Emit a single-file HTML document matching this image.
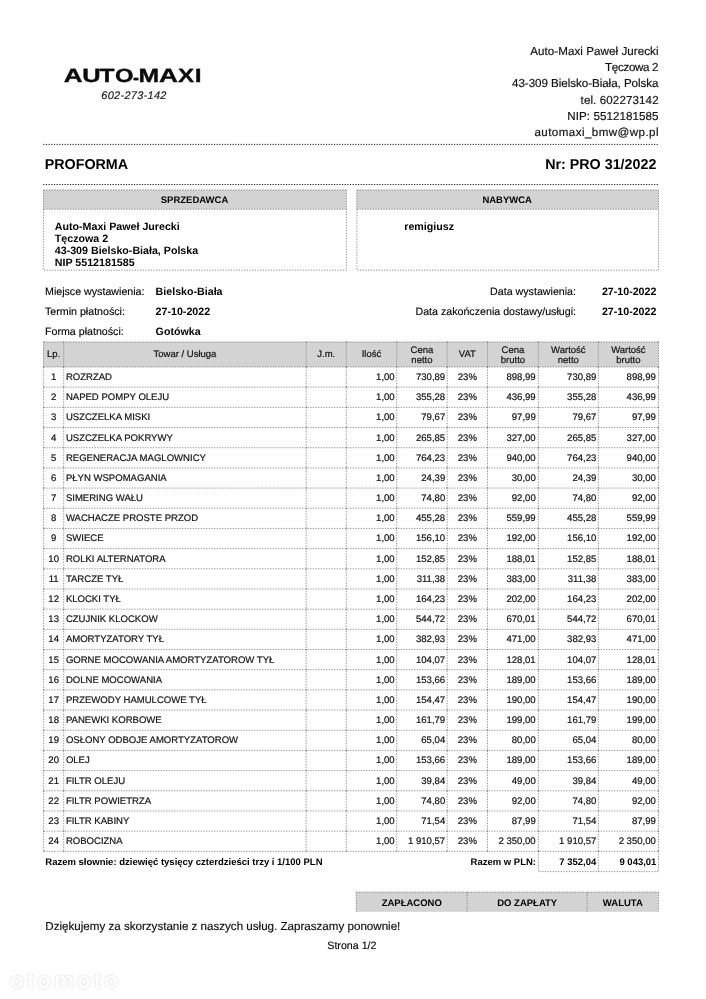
<!DOCTYPE html>
<html lang="pl">
<head>
<meta charset="utf-8">
<title>Proforma PRO 31/2022</title>
<style>
*{box-sizing:border-box;margin:0;padding:0}
html,body{width:706px;height:999px;background:#fff;overflow:hidden}
body{position:relative;font-family:"Liberation Sans",sans-serif;color:#000;font-size:10.67px;line-height:1;text-rendering:geometricPrecision}
#wrap{position:absolute;left:0;top:0;width:706px;height:999px;will-change:transform}
#grid{position:absolute;left:0;top:0}
.abs{position:absolute;white-space:nowrap}
.b{font-weight:bold}

/* logo */
#logo{position:absolute;left:0;top:0}
#logo2{left:101.3px;top:90.5px;font-style:italic;font-size:11px;letter-spacing:0.27px;color:#1a1a1a;-webkit-text-stroke:0.18px #1a1a1a}

/* header right (Calibri-like lines, tuned per line) */
.hr{font-size:11.6px;color:#111;-webkit-text-stroke:0.18px #111}
.rg{-webkit-text-stroke:0.12px #000}

/* titles */
.ttl{font-size:14.3px;font-weight:bold}

/* party boxes */
.hd{position:absolute;top:196px;margin-left:-0.5px;font-weight:bold;font-size:9.5px;text-align:center;white-space:nowrap}
.pt{font-weight:bold;font-size:10.67px;line-height:12.2px}

/* items table */
.th{position:absolute;font-size:9.5px;line-height:10.8px;text-align:center;white-space:nowrap;color:#111;margin-top:1px;-webkit-text-stroke:0.2px #111}
.tr{position:absolute;left:0;width:706px;height:20px;font-size:9.56px;line-height:20px;color:#111;margin-top:1px;-webkit-text-stroke:0.2px #111}
.tr span{position:absolute;top:0;white-space:nowrap}
.tr .c{text-align:center}
.tr .l{text-align:left;padding-left:2.2px}
.tr .n{text-align:right;padding-right:2px}

.s95{font-size:9.5px}
</style>
</head>
<body>
<div id="wrap">

<svg id="grid" width="706" height="999" viewBox="0 0 706 999">
<g fill="#d3d3d3">
<rect x="43.2" y="189.8" width="303.2" height="19.3"/>
<rect x="356.6" y="189.8" width="301.9" height="19.3"/>
<rect x="43.2" y="341.8" width="615.3" height="25.2"/>
<rect x="356" y="891.9" width="302.5" height="19.9"/>
</g>
<g stroke="#1c1c1c" stroke-width="1.0" stroke-dasharray="1.2 1.467" fill="none">
<path d="M43.2 144.4H658.9M43.2 184.5H658.9"/>
</g>
<path stroke="#787878" stroke-width="0.78" stroke-dasharray="1.333 1.333" fill="none" d="M43.6 209.3H346.4M43.6 209.3V270.2H346.4V209.3M356.9 209.3H658.5M356.9 209.3V270.2H658.5V209.3M43.6 367H658.5M43.6 387.18H658.5M43.6 407.36H658.5M43.6 427.54H658.5M43.6 447.72H658.5M43.6 467.9H658.5M43.6 488.08H658.5M43.6 508.26H658.5M43.6 528.44H658.5M43.6 548.62H658.5M43.6 568.8H658.5M43.6 588.98H658.5M43.6 609.16H658.5M43.6 629.34H658.5M43.6 649.52H658.5M43.6 669.7H658.5M43.6 689.88H658.5M43.6 710.06H658.5M43.6 730.24H658.5M43.6 750.42H658.5M43.6 770.6H658.5M43.6 790.78H658.5M43.6 810.96H658.5M43.6 831.14H658.5M43.6 851.32H658.5M43.6 367V851.32M63.7 367V851.32M306.2 367V851.32M346.3 367V851.32M396.7 367V851.32M447.2 367V851.32M487.5 367V851.32M538.4 367V851.32M598.3 367V851.32M658.5 367V851.32M43.6 190H346.4M356.9 190H658.5M43.6 342H658.5M356.3 892.2H658.5M538.4 851.32V871.6H658.5V851.32M598.3 851.32V871.6"/>
<path stroke="#7a7a7a" stroke-width="0.75" stroke-dasharray="1.333 1.333" fill="none" d="M43.6 190V209.3M346.4 190V209.3M356.9 190V209.3M658.5 190V209.3M43.6 342V367M63.7 342V367M306.2 342V367M346.3 342V367M396.7 342V367M447.2 342V367M487.5 342V367M538.4 342V367M598.3 342V367M658.5 342V367M356.3 892V911.7M467.2 892V911.7M587.2 892V911.7M658.5 892V911.7"/>
<g fill="#6e6e6e" fill-opacity="0.55"><rect x="43" y="366.4" width="1.2" height="1.2"/><rect x="63.1" y="366.4" width="1.2" height="1.2"/><rect x="305.6" y="366.4" width="1.2" height="1.2"/><rect x="345.7" y="366.4" width="1.2" height="1.2"/><rect x="396.1" y="366.4" width="1.2" height="1.2"/><rect x="446.6" y="366.4" width="1.2" height="1.2"/><rect x="486.9" y="366.4" width="1.2" height="1.2"/><rect x="537.8" y="366.4" width="1.2" height="1.2"/><rect x="597.7" y="366.4" width="1.2" height="1.2"/><rect x="657.9" y="366.4" width="1.2" height="1.2"/><rect x="43" y="386.58" width="1.2" height="1.2"/><rect x="63.1" y="386.58" width="1.2" height="1.2"/><rect x="305.6" y="386.58" width="1.2" height="1.2"/><rect x="345.7" y="386.58" width="1.2" height="1.2"/><rect x="396.1" y="386.58" width="1.2" height="1.2"/><rect x="446.6" y="386.58" width="1.2" height="1.2"/><rect x="486.9" y="386.58" width="1.2" height="1.2"/><rect x="537.8" y="386.58" width="1.2" height="1.2"/><rect x="597.7" y="386.58" width="1.2" height="1.2"/><rect x="657.9" y="386.58" width="1.2" height="1.2"/><rect x="43" y="406.76" width="1.2" height="1.2"/><rect x="63.1" y="406.76" width="1.2" height="1.2"/><rect x="305.6" y="406.76" width="1.2" height="1.2"/><rect x="345.7" y="406.76" width="1.2" height="1.2"/><rect x="396.1" y="406.76" width="1.2" height="1.2"/><rect x="446.6" y="406.76" width="1.2" height="1.2"/><rect x="486.9" y="406.76" width="1.2" height="1.2"/><rect x="537.8" y="406.76" width="1.2" height="1.2"/><rect x="597.7" y="406.76" width="1.2" height="1.2"/><rect x="657.9" y="406.76" width="1.2" height="1.2"/><rect x="43" y="426.94" width="1.2" height="1.2"/><rect x="63.1" y="426.94" width="1.2" height="1.2"/><rect x="305.6" y="426.94" width="1.2" height="1.2"/><rect x="345.7" y="426.94" width="1.2" height="1.2"/><rect x="396.1" y="426.94" width="1.2" height="1.2"/><rect x="446.6" y="426.94" width="1.2" height="1.2"/><rect x="486.9" y="426.94" width="1.2" height="1.2"/><rect x="537.8" y="426.94" width="1.2" height="1.2"/><rect x="597.7" y="426.94" width="1.2" height="1.2"/><rect x="657.9" y="426.94" width="1.2" height="1.2"/><rect x="43" y="447.12" width="1.2" height="1.2"/><rect x="63.1" y="447.12" width="1.2" height="1.2"/><rect x="305.6" y="447.12" width="1.2" height="1.2"/><rect x="345.7" y="447.12" width="1.2" height="1.2"/><rect x="396.1" y="447.12" width="1.2" height="1.2"/><rect x="446.6" y="447.12" width="1.2" height="1.2"/><rect x="486.9" y="447.12" width="1.2" height="1.2"/><rect x="537.8" y="447.12" width="1.2" height="1.2"/><rect x="597.7" y="447.12" width="1.2" height="1.2"/><rect x="657.9" y="447.12" width="1.2" height="1.2"/><rect x="43" y="467.3" width="1.2" height="1.2"/><rect x="63.1" y="467.3" width="1.2" height="1.2"/><rect x="305.6" y="467.3" width="1.2" height="1.2"/><rect x="345.7" y="467.3" width="1.2" height="1.2"/><rect x="396.1" y="467.3" width="1.2" height="1.2"/><rect x="446.6" y="467.3" width="1.2" height="1.2"/><rect x="486.9" y="467.3" width="1.2" height="1.2"/><rect x="537.8" y="467.3" width="1.2" height="1.2"/><rect x="597.7" y="467.3" width="1.2" height="1.2"/><rect x="657.9" y="467.3" width="1.2" height="1.2"/><rect x="43" y="487.48" width="1.2" height="1.2"/><rect x="63.1" y="487.48" width="1.2" height="1.2"/><rect x="305.6" y="487.48" width="1.2" height="1.2"/><rect x="345.7" y="487.48" width="1.2" height="1.2"/><rect x="396.1" y="487.48" width="1.2" height="1.2"/><rect x="446.6" y="487.48" width="1.2" height="1.2"/><rect x="486.9" y="487.48" width="1.2" height="1.2"/><rect x="537.8" y="487.48" width="1.2" height="1.2"/><rect x="597.7" y="487.48" width="1.2" height="1.2"/><rect x="657.9" y="487.48" width="1.2" height="1.2"/><rect x="43" y="507.66" width="1.2" height="1.2"/><rect x="63.1" y="507.66" width="1.2" height="1.2"/><rect x="305.6" y="507.66" width="1.2" height="1.2"/><rect x="345.7" y="507.66" width="1.2" height="1.2"/><rect x="396.1" y="507.66" width="1.2" height="1.2"/><rect x="446.6" y="507.66" width="1.2" height="1.2"/><rect x="486.9" y="507.66" width="1.2" height="1.2"/><rect x="537.8" y="507.66" width="1.2" height="1.2"/><rect x="597.7" y="507.66" width="1.2" height="1.2"/><rect x="657.9" y="507.66" width="1.2" height="1.2"/><rect x="43" y="527.84" width="1.2" height="1.2"/><rect x="63.1" y="527.84" width="1.2" height="1.2"/><rect x="305.6" y="527.84" width="1.2" height="1.2"/><rect x="345.7" y="527.84" width="1.2" height="1.2"/><rect x="396.1" y="527.84" width="1.2" height="1.2"/><rect x="446.6" y="527.84" width="1.2" height="1.2"/><rect x="486.9" y="527.84" width="1.2" height="1.2"/><rect x="537.8" y="527.84" width="1.2" height="1.2"/><rect x="597.7" y="527.84" width="1.2" height="1.2"/><rect x="657.9" y="527.84" width="1.2" height="1.2"/><rect x="43" y="548.02" width="1.2" height="1.2"/><rect x="63.1" y="548.02" width="1.2" height="1.2"/><rect x="305.6" y="548.02" width="1.2" height="1.2"/><rect x="345.7" y="548.02" width="1.2" height="1.2"/><rect x="396.1" y="548.02" width="1.2" height="1.2"/><rect x="446.6" y="548.02" width="1.2" height="1.2"/><rect x="486.9" y="548.02" width="1.2" height="1.2"/><rect x="537.8" y="548.02" width="1.2" height="1.2"/><rect x="597.7" y="548.02" width="1.2" height="1.2"/><rect x="657.9" y="548.02" width="1.2" height="1.2"/><rect x="43" y="568.2" width="1.2" height="1.2"/><rect x="63.1" y="568.2" width="1.2" height="1.2"/><rect x="305.6" y="568.2" width="1.2" height="1.2"/><rect x="345.7" y="568.2" width="1.2" height="1.2"/><rect x="396.1" y="568.2" width="1.2" height="1.2"/><rect x="446.6" y="568.2" width="1.2" height="1.2"/><rect x="486.9" y="568.2" width="1.2" height="1.2"/><rect x="537.8" y="568.2" width="1.2" height="1.2"/><rect x="597.7" y="568.2" width="1.2" height="1.2"/><rect x="657.9" y="568.2" width="1.2" height="1.2"/><rect x="43" y="588.38" width="1.2" height="1.2"/><rect x="63.1" y="588.38" width="1.2" height="1.2"/><rect x="305.6" y="588.38" width="1.2" height="1.2"/><rect x="345.7" y="588.38" width="1.2" height="1.2"/><rect x="396.1" y="588.38" width="1.2" height="1.2"/><rect x="446.6" y="588.38" width="1.2" height="1.2"/><rect x="486.9" y="588.38" width="1.2" height="1.2"/><rect x="537.8" y="588.38" width="1.2" height="1.2"/><rect x="597.7" y="588.38" width="1.2" height="1.2"/><rect x="657.9" y="588.38" width="1.2" height="1.2"/><rect x="43" y="608.56" width="1.2" height="1.2"/><rect x="63.1" y="608.56" width="1.2" height="1.2"/><rect x="305.6" y="608.56" width="1.2" height="1.2"/><rect x="345.7" y="608.56" width="1.2" height="1.2"/><rect x="396.1" y="608.56" width="1.2" height="1.2"/><rect x="446.6" y="608.56" width="1.2" height="1.2"/><rect x="486.9" y="608.56" width="1.2" height="1.2"/><rect x="537.8" y="608.56" width="1.2" height="1.2"/><rect x="597.7" y="608.56" width="1.2" height="1.2"/><rect x="657.9" y="608.56" width="1.2" height="1.2"/><rect x="43" y="628.74" width="1.2" height="1.2"/><rect x="63.1" y="628.74" width="1.2" height="1.2"/><rect x="305.6" y="628.74" width="1.2" height="1.2"/><rect x="345.7" y="628.74" width="1.2" height="1.2"/><rect x="396.1" y="628.74" width="1.2" height="1.2"/><rect x="446.6" y="628.74" width="1.2" height="1.2"/><rect x="486.9" y="628.74" width="1.2" height="1.2"/><rect x="537.8" y="628.74" width="1.2" height="1.2"/><rect x="597.7" y="628.74" width="1.2" height="1.2"/><rect x="657.9" y="628.74" width="1.2" height="1.2"/><rect x="43" y="648.92" width="1.2" height="1.2"/><rect x="63.1" y="648.92" width="1.2" height="1.2"/><rect x="305.6" y="648.92" width="1.2" height="1.2"/><rect x="345.7" y="648.92" width="1.2" height="1.2"/><rect x="396.1" y="648.92" width="1.2" height="1.2"/><rect x="446.6" y="648.92" width="1.2" height="1.2"/><rect x="486.9" y="648.92" width="1.2" height="1.2"/><rect x="537.8" y="648.92" width="1.2" height="1.2"/><rect x="597.7" y="648.92" width="1.2" height="1.2"/><rect x="657.9" y="648.92" width="1.2" height="1.2"/><rect x="43" y="669.1" width="1.2" height="1.2"/><rect x="63.1" y="669.1" width="1.2" height="1.2"/><rect x="305.6" y="669.1" width="1.2" height="1.2"/><rect x="345.7" y="669.1" width="1.2" height="1.2"/><rect x="396.1" y="669.1" width="1.2" height="1.2"/><rect x="446.6" y="669.1" width="1.2" height="1.2"/><rect x="486.9" y="669.1" width="1.2" height="1.2"/><rect x="537.8" y="669.1" width="1.2" height="1.2"/><rect x="597.7" y="669.1" width="1.2" height="1.2"/><rect x="657.9" y="669.1" width="1.2" height="1.2"/><rect x="43" y="689.28" width="1.2" height="1.2"/><rect x="63.1" y="689.28" width="1.2" height="1.2"/><rect x="305.6" y="689.28" width="1.2" height="1.2"/><rect x="345.7" y="689.28" width="1.2" height="1.2"/><rect x="396.1" y="689.28" width="1.2" height="1.2"/><rect x="446.6" y="689.28" width="1.2" height="1.2"/><rect x="486.9" y="689.28" width="1.2" height="1.2"/><rect x="537.8" y="689.28" width="1.2" height="1.2"/><rect x="597.7" y="689.28" width="1.2" height="1.2"/><rect x="657.9" y="689.28" width="1.2" height="1.2"/><rect x="43" y="709.46" width="1.2" height="1.2"/><rect x="63.1" y="709.46" width="1.2" height="1.2"/><rect x="305.6" y="709.46" width="1.2" height="1.2"/><rect x="345.7" y="709.46" width="1.2" height="1.2"/><rect x="396.1" y="709.46" width="1.2" height="1.2"/><rect x="446.6" y="709.46" width="1.2" height="1.2"/><rect x="486.9" y="709.46" width="1.2" height="1.2"/><rect x="537.8" y="709.46" width="1.2" height="1.2"/><rect x="597.7" y="709.46" width="1.2" height="1.2"/><rect x="657.9" y="709.46" width="1.2" height="1.2"/><rect x="43" y="729.64" width="1.2" height="1.2"/><rect x="63.1" y="729.64" width="1.2" height="1.2"/><rect x="305.6" y="729.64" width="1.2" height="1.2"/><rect x="345.7" y="729.64" width="1.2" height="1.2"/><rect x="396.1" y="729.64" width="1.2" height="1.2"/><rect x="446.6" y="729.64" width="1.2" height="1.2"/><rect x="486.9" y="729.64" width="1.2" height="1.2"/><rect x="537.8" y="729.64" width="1.2" height="1.2"/><rect x="597.7" y="729.64" width="1.2" height="1.2"/><rect x="657.9" y="729.64" width="1.2" height="1.2"/><rect x="43" y="749.82" width="1.2" height="1.2"/><rect x="63.1" y="749.82" width="1.2" height="1.2"/><rect x="305.6" y="749.82" width="1.2" height="1.2"/><rect x="345.7" y="749.82" width="1.2" height="1.2"/><rect x="396.1" y="749.82" width="1.2" height="1.2"/><rect x="446.6" y="749.82" width="1.2" height="1.2"/><rect x="486.9" y="749.82" width="1.2" height="1.2"/><rect x="537.8" y="749.82" width="1.2" height="1.2"/><rect x="597.7" y="749.82" width="1.2" height="1.2"/><rect x="657.9" y="749.82" width="1.2" height="1.2"/><rect x="43" y="770" width="1.2" height="1.2"/><rect x="63.1" y="770" width="1.2" height="1.2"/><rect x="305.6" y="770" width="1.2" height="1.2"/><rect x="345.7" y="770" width="1.2" height="1.2"/><rect x="396.1" y="770" width="1.2" height="1.2"/><rect x="446.6" y="770" width="1.2" height="1.2"/><rect x="486.9" y="770" width="1.2" height="1.2"/><rect x="537.8" y="770" width="1.2" height="1.2"/><rect x="597.7" y="770" width="1.2" height="1.2"/><rect x="657.9" y="770" width="1.2" height="1.2"/><rect x="43" y="790.18" width="1.2" height="1.2"/><rect x="63.1" y="790.18" width="1.2" height="1.2"/><rect x="305.6" y="790.18" width="1.2" height="1.2"/><rect x="345.7" y="790.18" width="1.2" height="1.2"/><rect x="396.1" y="790.18" width="1.2" height="1.2"/><rect x="446.6" y="790.18" width="1.2" height="1.2"/><rect x="486.9" y="790.18" width="1.2" height="1.2"/><rect x="537.8" y="790.18" width="1.2" height="1.2"/><rect x="597.7" y="790.18" width="1.2" height="1.2"/><rect x="657.9" y="790.18" width="1.2" height="1.2"/><rect x="43" y="810.36" width="1.2" height="1.2"/><rect x="63.1" y="810.36" width="1.2" height="1.2"/><rect x="305.6" y="810.36" width="1.2" height="1.2"/><rect x="345.7" y="810.36" width="1.2" height="1.2"/><rect x="396.1" y="810.36" width="1.2" height="1.2"/><rect x="446.6" y="810.36" width="1.2" height="1.2"/><rect x="486.9" y="810.36" width="1.2" height="1.2"/><rect x="537.8" y="810.36" width="1.2" height="1.2"/><rect x="597.7" y="810.36" width="1.2" height="1.2"/><rect x="657.9" y="810.36" width="1.2" height="1.2"/><rect x="43" y="830.54" width="1.2" height="1.2"/><rect x="63.1" y="830.54" width="1.2" height="1.2"/><rect x="305.6" y="830.54" width="1.2" height="1.2"/><rect x="345.7" y="830.54" width="1.2" height="1.2"/><rect x="396.1" y="830.54" width="1.2" height="1.2"/><rect x="446.6" y="830.54" width="1.2" height="1.2"/><rect x="486.9" y="830.54" width="1.2" height="1.2"/><rect x="537.8" y="830.54" width="1.2" height="1.2"/><rect x="597.7" y="830.54" width="1.2" height="1.2"/><rect x="657.9" y="830.54" width="1.2" height="1.2"/><rect x="43" y="850.72" width="1.2" height="1.2"/><rect x="63.1" y="850.72" width="1.2" height="1.2"/><rect x="305.6" y="850.72" width="1.2" height="1.2"/><rect x="345.7" y="850.72" width="1.2" height="1.2"/><rect x="396.1" y="850.72" width="1.2" height="1.2"/><rect x="446.6" y="850.72" width="1.2" height="1.2"/><rect x="486.9" y="850.72" width="1.2" height="1.2"/><rect x="537.8" y="850.72" width="1.2" height="1.2"/><rect x="597.7" y="850.72" width="1.2" height="1.2"/><rect x="657.9" y="850.72" width="1.2" height="1.2"/><rect x="43" y="341.4" width="1.2" height="1.2"/><rect x="63.1" y="341.4" width="1.2" height="1.2"/><rect x="305.6" y="341.4" width="1.2" height="1.2"/><rect x="345.7" y="341.4" width="1.2" height="1.2"/><rect x="396.1" y="341.4" width="1.2" height="1.2"/><rect x="446.6" y="341.4" width="1.2" height="1.2"/><rect x="486.9" y="341.4" width="1.2" height="1.2"/><rect x="537.8" y="341.4" width="1.2" height="1.2"/><rect x="597.7" y="341.4" width="1.2" height="1.2"/><rect x="657.9" y="341.4" width="1.2" height="1.2"/></g>
</svg>

<!-- logo -->
<svg id="logo" width="230" height="100" viewBox="0 0 230 100"><g font-family="Liberation Sans,sans-serif" font-weight="bold" font-size="19.1" fill="#0b0b0b" stroke="#0b0b0b" stroke-width="0.35" text-rendering="geometricPrecision"><text transform="translate(63.68 82.30) scale(1.360 1)" style="vector-effect:non-scaling-stroke">A</text><text transform="translate(82.15 82.30) scale(1.331 1)" style="vector-effect:non-scaling-stroke">U</text><text transform="translate(99.53 82.30) scale(1.282 1)" style="vector-effect:non-scaling-stroke">T</text><text transform="translate(115.02 82.30) scale(1.247 1)" style="vector-effect:non-scaling-stroke">O</text><text transform="translate(132.96 84.05) scale(0.934 1)" style="vector-effect:non-scaling-stroke">-</text><text transform="translate(138.46 82.30) scale(1.298 1)" style="vector-effect:non-scaling-stroke">M</text><text transform="translate(159.12 82.30) scale(1.371 1)" style="vector-effect:non-scaling-stroke">A</text><text transform="translate(177.93 82.30) scale(1.262 1)" style="vector-effect:non-scaling-stroke">X</text><text transform="translate(194.78 82.30) scale(1.282 1)" style="vector-effect:non-scaling-stroke">I</text></g></svg>
<div class="abs" id="logo2">602-273-142</div>

<!-- header right -->
<div class="abs hr" style="top:46px;right:47.4px;letter-spacing:0.065px">Auto-Maxi Paweł Jurecki</div>
<div class="abs hr" style="top:62px;right:47.8px;letter-spacing:-0.33px">Tęczowa 2</div>
<div class="abs hr" style="top:78px;right:47.5px;letter-spacing:-0.04px">43-309 Bielsko-Biała, Polska</div>
<div class="abs hr" style="top:95px;right:47.3px;letter-spacing:0.1px">tel. 602273142</div>
<div class="abs hr" style="top:111px;right:47.4px;letter-spacing:0.07px">NIP: 5512181585</div>
<div class="abs hr" style="top:127px;right:47px;letter-spacing:0.43px">automaxi_bmw@wp.pl</div>

<div class="abs ttl" style="left:44.7px;top:158px">PROFORMA</div>
<div class="abs ttl" style="right:49.6px;top:158px">Nr: PRO 31/2022</div>

<!-- seller / buyer -->
<div class="hd" style="left:43.6px;width:302.8px">SPRZEDAWCA</div>
<div class="hd" style="left:356.9px;width:301.6px">NABYWCA</div>
<div class="abs pt" style="left:54.8px;top:220.5px">Auto-Maxi Paweł Jurecki<br>Tęczowa 2<br>43-309 Bielsko-Biała, Polska<br>NIP 5512181585</div>
<div class="abs pt" style="left:404.3px;top:220.5px">remigiusz</div>

<!-- meta -->
<div class="abs rg" style="left:45px;top:287px">Miejsce wystawienia:</div>
<div class="abs b" style="left:155.6px;top:287px">Bielsko-Biała</div>
<div class="abs rg" style="left:45px;top:307px">Termin płatności:</div>
<div class="abs b" style="left:155.6px;top:307px">27-10-2022</div>
<div class="abs rg" style="left:45px;top:327px">Forma płatności:</div>
<div class="abs b" style="left:155.6px;top:327px">Gotówka</div>

<div class="abs rg" style="right:130px;top:287px">Data wystawienia:</div>
<div class="abs b" style="right:49.6px;top:287px">27-10-2022</div>
<div class="abs rg" style="right:130px;top:307px">Data zakończenia dostawy/usługi:</div>
<div class="abs b" style="right:49.6px;top:307px">27-10-2022</div>

<!-- items header -->
<div class="th" style="left:43.6px;width:20.1px;top:349.4px">Lp.</div>
<div class="th" style="left:63.7px;width:242.5px;top:349.4px">Towar / Usługa</div>
<div class="th" style="left:306.2px;width:40.1px;top:349.4px">J.m.</div>
<div class="th" style="left:346.3px;width:50.4px;top:349.4px">Ilość</div>
<div class="th" style="left:396.7px;width:50.5px;top:344.6px">Cena<br>netto</div>
<div class="th" style="left:447.2px;width:40.3px;top:349.4px">VAT</div>
<div class="th" style="left:487.5px;width:50.9px;top:344.6px">Cena<br>brutto</div>
<div class="th" style="left:538.4px;width:59.9px;top:344.6px">Wartość<br>netto</div>
<div class="th" style="left:598.3px;width:60.2px;top:344.6px">Wartość<br>brutto</div>

<!-- items rows -->
<div class="tr" style="top:367px"><span class="c" style="left:43.6px;width:20.1px">1</span><span class="l" style="left:63.7px;width:242.5px">ROZRZAD</span><span class="n" style="left:346.3px;width:50.4px">1,00</span><span class="n" style="left:396.7px;width:50.5px">730,89</span><span class="c" style="left:447.2px;width:40.3px">23%</span><span class="n" style="left:487.5px;width:50.2px">898,99</span><span class="n" style="left:538.4px;width:59.9px">730,89</span><span class="n" style="left:598.3px;width:59.5px">898,99</span></div>
<div class="tr" style="top:387px"><span class="c" style="left:43.6px;width:20.1px">2</span><span class="l" style="left:63.7px;width:242.5px">NAPED POMPY OLEJU</span><span class="n" style="left:346.3px;width:50.4px">1,00</span><span class="n" style="left:396.7px;width:50.5px">355,28</span><span class="c" style="left:447.2px;width:40.3px">23%</span><span class="n" style="left:487.5px;width:50.2px">436,99</span><span class="n" style="left:538.4px;width:59.9px">355,28</span><span class="n" style="left:598.3px;width:59.5px">436,99</span></div>
<div class="tr" style="top:407px"><span class="c" style="left:43.6px;width:20.1px">3</span><span class="l" style="left:63.7px;width:242.5px">USZCZELKA MISKI</span><span class="n" style="left:346.3px;width:50.4px">1,00</span><span class="n" style="left:396.7px;width:50.5px">79,67</span><span class="c" style="left:447.2px;width:40.3px">23%</span><span class="n" style="left:487.5px;width:50.2px">97,99</span><span class="n" style="left:538.4px;width:59.9px">79,67</span><span class="n" style="left:598.3px;width:59.5px">97,99</span></div>
<div class="tr" style="top:428px"><span class="c" style="left:43.6px;width:20.1px">4</span><span class="l" style="left:63.7px;width:242.5px">USZCZELKA POKRYWY</span><span class="n" style="left:346.3px;width:50.4px">1,00</span><span class="n" style="left:396.7px;width:50.5px">265,85</span><span class="c" style="left:447.2px;width:40.3px">23%</span><span class="n" style="left:487.5px;width:50.2px">327,00</span><span class="n" style="left:538.4px;width:59.9px">265,85</span><span class="n" style="left:598.3px;width:59.5px">327,00</span></div>
<div class="tr" style="top:448px"><span class="c" style="left:43.6px;width:20.1px">5</span><span class="l" style="left:63.7px;width:242.5px">REGENERACJA MAGLOWNICY</span><span class="n" style="left:346.3px;width:50.4px">1,00</span><span class="n" style="left:396.7px;width:50.5px">764,23</span><span class="c" style="left:447.2px;width:40.3px">23%</span><span class="n" style="left:487.5px;width:50.2px">940,00</span><span class="n" style="left:538.4px;width:59.9px">764,23</span><span class="n" style="left:598.3px;width:59.5px">940,00</span></div>
<div class="tr" style="top:468px"><span class="c" style="left:43.6px;width:20.1px">6</span><span class="l" style="left:63.7px;width:242.5px">PŁYN WSPOMAGANIA</span><span class="n" style="left:346.3px;width:50.4px">1,00</span><span class="n" style="left:396.7px;width:50.5px">24,39</span><span class="c" style="left:447.2px;width:40.3px">23%</span><span class="n" style="left:487.5px;width:50.2px">30,00</span><span class="n" style="left:538.4px;width:59.9px">24,39</span><span class="n" style="left:598.3px;width:59.5px">30,00</span></div>
<div class="tr" style="top:488px"><span class="c" style="left:43.6px;width:20.1px">7</span><span class="l" style="left:63.7px;width:242.5px">SIMERING WAŁU</span><span class="n" style="left:346.3px;width:50.4px">1,00</span><span class="n" style="left:396.7px;width:50.5px">74,80</span><span class="c" style="left:447.2px;width:40.3px">23%</span><span class="n" style="left:487.5px;width:50.2px">92,00</span><span class="n" style="left:538.4px;width:59.9px">74,80</span><span class="n" style="left:598.3px;width:59.5px">92,00</span></div>
<div class="tr" style="top:508px"><span class="c" style="left:43.6px;width:20.1px">8</span><span class="l" style="left:63.7px;width:242.5px">WACHACZE PROSTE PRZOD</span><span class="n" style="left:346.3px;width:50.4px">1,00</span><span class="n" style="left:396.7px;width:50.5px">455,28</span><span class="c" style="left:447.2px;width:40.3px">23%</span><span class="n" style="left:487.5px;width:50.2px">559,99</span><span class="n" style="left:538.4px;width:59.9px">455,28</span><span class="n" style="left:598.3px;width:59.5px">559,99</span></div>
<div class="tr" style="top:528px"><span class="c" style="left:43.6px;width:20.1px">9</span><span class="l" style="left:63.7px;width:242.5px">SWIECE</span><span class="n" style="left:346.3px;width:50.4px">1,00</span><span class="n" style="left:396.7px;width:50.5px">156,10</span><span class="c" style="left:447.2px;width:40.3px">23%</span><span class="n" style="left:487.5px;width:50.2px">192,00</span><span class="n" style="left:538.4px;width:59.9px">156,10</span><span class="n" style="left:598.3px;width:59.5px">192,00</span></div>
<div class="tr" style="top:549px"><span class="c" style="left:43.6px;width:20.1px">10</span><span class="l" style="left:63.7px;width:242.5px">ROLKI ALTERNATORA</span><span class="n" style="left:346.3px;width:50.4px">1,00</span><span class="n" style="left:396.7px;width:50.5px">152,85</span><span class="c" style="left:447.2px;width:40.3px">23%</span><span class="n" style="left:487.5px;width:50.2px">188,01</span><span class="n" style="left:538.4px;width:59.9px">152,85</span><span class="n" style="left:598.3px;width:59.5px">188,01</span></div>
<div class="tr" style="top:569px"><span class="c" style="left:43.6px;width:20.1px">11</span><span class="l" style="left:63.7px;width:242.5px">TARCZE TYŁ</span><span class="n" style="left:346.3px;width:50.4px">1,00</span><span class="n" style="left:396.7px;width:50.5px">311,38</span><span class="c" style="left:447.2px;width:40.3px">23%</span><span class="n" style="left:487.5px;width:50.2px">383,00</span><span class="n" style="left:538.4px;width:59.9px">311,38</span><span class="n" style="left:598.3px;width:59.5px">383,00</span></div>
<div class="tr" style="top:589px"><span class="c" style="left:43.6px;width:20.1px">12</span><span class="l" style="left:63.7px;width:242.5px">KLOCKI TYŁ</span><span class="n" style="left:346.3px;width:50.4px">1,00</span><span class="n" style="left:396.7px;width:50.5px">164,23</span><span class="c" style="left:447.2px;width:40.3px">23%</span><span class="n" style="left:487.5px;width:50.2px">202,00</span><span class="n" style="left:538.4px;width:59.9px">164,23</span><span class="n" style="left:598.3px;width:59.5px">202,00</span></div>
<div class="tr" style="top:609px"><span class="c" style="left:43.6px;width:20.1px">13</span><span class="l" style="left:63.7px;width:242.5px">CZUJNIK KLOCKOW</span><span class="n" style="left:346.3px;width:50.4px">1,00</span><span class="n" style="left:396.7px;width:50.5px">544,72</span><span class="c" style="left:447.2px;width:40.3px">23%</span><span class="n" style="left:487.5px;width:50.2px">670,01</span><span class="n" style="left:538.4px;width:59.9px">544,72</span><span class="n" style="left:598.3px;width:59.5px">670,01</span></div>
<div class="tr" style="top:629px"><span class="c" style="left:43.6px;width:20.1px">14</span><span class="l" style="left:63.7px;width:242.5px">AMORTYZATORY TYŁ</span><span class="n" style="left:346.3px;width:50.4px">1,00</span><span class="n" style="left:396.7px;width:50.5px">382,93</span><span class="c" style="left:447.2px;width:40.3px">23%</span><span class="n" style="left:487.5px;width:50.2px">471,00</span><span class="n" style="left:538.4px;width:59.9px">382,93</span><span class="n" style="left:598.3px;width:59.5px">471,00</span></div>
<div class="tr" style="top:650px"><span class="c" style="left:43.6px;width:20.1px">15</span><span class="l" style="left:63.7px;width:242.5px">GORNE MOCOWANIA AMORTYZATOROW TYŁ</span><span class="n" style="left:346.3px;width:50.4px">1,00</span><span class="n" style="left:396.7px;width:50.5px">104,07</span><span class="c" style="left:447.2px;width:40.3px">23%</span><span class="n" style="left:487.5px;width:50.2px">128,01</span><span class="n" style="left:538.4px;width:59.9px">104,07</span><span class="n" style="left:598.3px;width:59.5px">128,01</span></div>
<div class="tr" style="top:670px"><span class="c" style="left:43.6px;width:20.1px">16</span><span class="l" style="left:63.7px;width:242.5px">DOLNE MOCOWANIA</span><span class="n" style="left:346.3px;width:50.4px">1,00</span><span class="n" style="left:396.7px;width:50.5px">153,66</span><span class="c" style="left:447.2px;width:40.3px">23%</span><span class="n" style="left:487.5px;width:50.2px">189,00</span><span class="n" style="left:538.4px;width:59.9px">153,66</span><span class="n" style="left:598.3px;width:59.5px">189,00</span></div>
<div class="tr" style="top:690px"><span class="c" style="left:43.6px;width:20.1px">17</span><span class="l" style="left:63.7px;width:242.5px">PRZEWODY HAMULCOWE TYŁ</span><span class="n" style="left:346.3px;width:50.4px">1,00</span><span class="n" style="left:396.7px;width:50.5px">154,47</span><span class="c" style="left:447.2px;width:40.3px">23%</span><span class="n" style="left:487.5px;width:50.2px">190,00</span><span class="n" style="left:538.4px;width:59.9px">154,47</span><span class="n" style="left:598.3px;width:59.5px">190,00</span></div>
<div class="tr" style="top:710px"><span class="c" style="left:43.6px;width:20.1px">18</span><span class="l" style="left:63.7px;width:242.5px">PANEWKI KORBOWE</span><span class="n" style="left:346.3px;width:50.4px">1,00</span><span class="n" style="left:396.7px;width:50.5px">161,79</span><span class="c" style="left:447.2px;width:40.3px">23%</span><span class="n" style="left:487.5px;width:50.2px">199,00</span><span class="n" style="left:538.4px;width:59.9px">161,79</span><span class="n" style="left:598.3px;width:59.5px">199,00</span></div>
<div class="tr" style="top:730px"><span class="c" style="left:43.6px;width:20.1px">19</span><span class="l" style="left:63.7px;width:242.5px">OSŁONY ODBOJE AMORTYZATOROW</span><span class="n" style="left:346.3px;width:50.4px">1,00</span><span class="n" style="left:396.7px;width:50.5px">65,04</span><span class="c" style="left:447.2px;width:40.3px">23%</span><span class="n" style="left:487.5px;width:50.2px">80,00</span><span class="n" style="left:538.4px;width:59.9px">65,04</span><span class="n" style="left:598.3px;width:59.5px">80,00</span></div>
<div class="tr" style="top:750px"><span class="c" style="left:43.6px;width:20.1px">20</span><span class="l" style="left:63.7px;width:242.5px">OLEJ</span><span class="n" style="left:346.3px;width:50.4px">1,00</span><span class="n" style="left:396.7px;width:50.5px">153,66</span><span class="c" style="left:447.2px;width:40.3px">23%</span><span class="n" style="left:487.5px;width:50.2px">189,00</span><span class="n" style="left:538.4px;width:59.9px">153,66</span><span class="n" style="left:598.3px;width:59.5px">189,00</span></div>
<div class="tr" style="top:771px"><span class="c" style="left:43.6px;width:20.1px">21</span><span class="l" style="left:63.7px;width:242.5px">FILTR OLEJU</span><span class="n" style="left:346.3px;width:50.4px">1,00</span><span class="n" style="left:396.7px;width:50.5px">39,84</span><span class="c" style="left:447.2px;width:40.3px">23%</span><span class="n" style="left:487.5px;width:50.2px">49,00</span><span class="n" style="left:538.4px;width:59.9px">39,84</span><span class="n" style="left:598.3px;width:59.5px">49,00</span></div>
<div class="tr" style="top:791px"><span class="c" style="left:43.6px;width:20.1px">22</span><span class="l" style="left:63.7px;width:242.5px">FILTR POWIETRZA</span><span class="n" style="left:346.3px;width:50.4px">1,00</span><span class="n" style="left:396.7px;width:50.5px">74,80</span><span class="c" style="left:447.2px;width:40.3px">23%</span><span class="n" style="left:487.5px;width:50.2px">92,00</span><span class="n" style="left:538.4px;width:59.9px">74,80</span><span class="n" style="left:598.3px;width:59.5px">92,00</span></div>
<div class="tr" style="top:811px"><span class="c" style="left:43.6px;width:20.1px">23</span><span class="l" style="left:63.7px;width:242.5px">FILTR KABINY</span><span class="n" style="left:346.3px;width:50.4px">1,00</span><span class="n" style="left:396.7px;width:50.5px">71,54</span><span class="c" style="left:447.2px;width:40.3px">23%</span><span class="n" style="left:487.5px;width:50.2px">87,99</span><span class="n" style="left:538.4px;width:59.9px">71,54</span><span class="n" style="left:598.3px;width:59.5px">87,99</span></div>
<div class="tr" style="top:831px"><span class="c" style="left:43.6px;width:20.1px">24</span><span class="l" style="left:63.7px;width:242.5px">ROBOCIZNA</span><span class="n" style="left:346.3px;width:50.4px">1,00</span><span class="n" style="left:396.7px;width:50.5px">1 910,57</span><span class="c" style="left:447.2px;width:40.3px">23%</span><span class="n" style="left:487.5px;width:50.2px">2 350,00</span><span class="n" style="left:538.4px;width:59.9px">1 910,57</span><span class="n" style="left:598.3px;width:59.5px">2 350,00</span></div>

<!-- totals -->
<div class="abs b s95" style="left:45.3px;top:858px">Razem słownie: dziewięć tysięcy czterdzieści trzy i 1/100 PLN</div>
<div class="abs b s95" style="right:170px;top:858px">Razem w PLN:</div>
<div class="abs b s95" style="right:109.7px;top:858px">7 352,04</div>
<div class="abs b s95" style="right:49.6px;top:858px">9 043,01</div>

<!-- payment bar -->
<div class="abs b s95" style="left:356.3px;width:110.9px;top:899px;text-align:center">ZAPŁACONO</div>
<div class="abs b s95" style="left:467.2px;width:120px;top:899px;text-align:center">DO ZAPŁATY</div>
<div class="abs b s95" style="left:587.2px;width:71.3px;top:899px;text-align:center">WALUTA</div>

<div class="abs" style="left:45.3px;top:921px;font-size:11.6px;letter-spacing:0;color:#111;-webkit-text-stroke:0.18px #111">Dziękujemy za skorzystanie z naszych usług. Zapraszamy ponownie!</div>
<div class="abs rg" style="left:327.3px;top:941px">Strona 1/2</div>

<!-- faint site watermark -->
<div class="abs b" style="left:10px;top:968.5px;font-size:23px;letter-spacing:2.7px;color:#fff;text-shadow:0 0 2.5px rgba(0,0,0,0.17),0 0 1px rgba(0,0,0,0.08)">otomoto</div>

</div>
</body>
</html>
